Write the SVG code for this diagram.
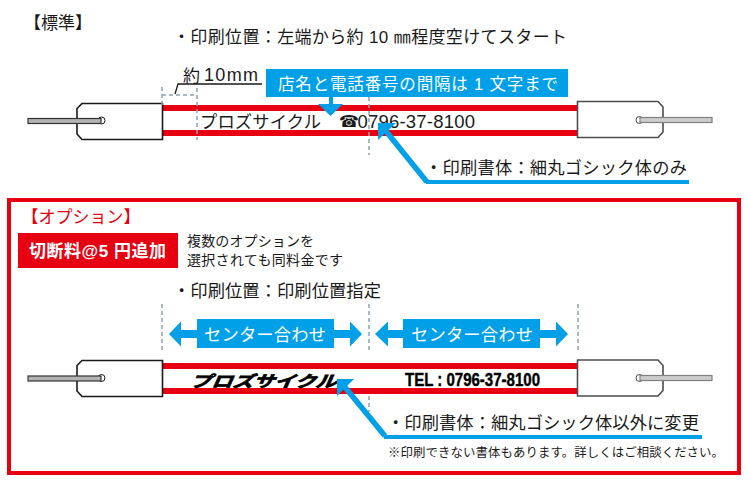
<svg xmlns="http://www.w3.org/2000/svg" width="750" height="484" viewBox="0 0 750 484">
<style>
text{font-family:"Liberation Sans","Noto Sans CJK JP",sans-serif;fill:#1a1a1a;white-space:pre}
.w{fill:#fff}
.r{fill:#e60012}
.l{fill:#e60012}
.tag{fill:#fff;stroke:#1a1a1a;stroke-width:1.6}
.tagr{fill:#fff;stroke:#4d4d4d;stroke-width:1.6}
.str{fill:#b3b3b3;stroke:#333;stroke-width:1.2}
.strr{fill:#ccc;stroke:#808080;stroke-width:1.2}
.dot{fill:none;stroke:#8aa5b5;stroke-width:1.5;stroke-dasharray:4 3}
.bl{fill:#00a0e9}
.bll{fill:none;stroke:#00a0e9;stroke-width:4}
.diag{fill:none;stroke:#00a0e9;stroke-width:5.500}
.m{font-size:17.300px}
.blk{fill:#000;stroke:#000}
</style>
<g id="standard-heading"><text x="24" y="29" font-size="17">【標準】</text></g>
<g id="position-note"><text x="173" y="43" style="font-size:17px" textLength="394">・印刷位置：左端から約 10 ㎜程度空けてスタート</text></g>
<g id="standard-strap">
<rect class="r" x="162" y="105" width="416" height="6"/>
<rect class="r" x="162" y="130" width="416" height="6"/>
</g>
<g id="standard-left-tag">
<path class="tag" d="M162.500 103.500H82L77 108.500V134L82 139.500H162.500Z"/>
<circle cx="101.500" cy="120.500" r="3.500" fill="#fff" stroke="#1a1a1a" stroke-width="1"/>
<rect class="str" x="28" y="118.500" width="73" height="5"/>
</g>
<g id="standard-right-tag">
<path class="tagr" d="M577.500 101.500H658L663 107V132L658 137.500H577.500Z"/>
<circle cx="639.500" cy="120" r="3.500" fill="#fff" stroke="#4d4d4d" stroke-width="1"/>
<rect class="strr" x="640" y="117.500" width="72" height="5"/>
</g>
<g id="size-label"><text x="183" y="82" font-size="17">約</text><text x="204" y="81" font-size="18" textLength="54">10mm</text></g>
<g id="spacing-callout">
<rect class="bl" x="266" y="69" width="302" height="28"/>
<rect class="bl" x="329" y="97" width="4" height="8"/>
<path class="bl" d="M318 104H343L330.500 116Z"/>
<text class="w" x="278" y="90" font-size="16.500" textLength="280">店名と電話番号の間隔は 1 文字まで</text>
</g>
<g id="standard-print">
<text x="200" y="128" font-size="17.300" textLength="121">プロズサイクル</text>
<text x="339" y="127" font-size="16" style="font-family:'DejaVu Sans'">☎</text>
<text x="357.500" y="128" font-size="18.500" textLength="117.500">0796-37-8100</text>
</g>
<g id="font-note"><text x="425" y="174" class="m" textLength="262">・印刷書体：細丸ゴシック体のみ</text></g>
<g id="option-frame"><rect x="9" y="200" width="730" height="273" fill="none" stroke="#e60012" stroke-width="4"/></g>
<g id="option-heading"><text class="l" x="21.500" y="223" font-size="17">【オプション】</text></g>
<g id="price-badge">
<rect class="r" x="18" y="233" width="160" height="35"/>
<text class="w" x="29" y="257" font-size="17" font-weight="700" textLength="137">切断料@5 円追加</text>
</g>
<g id="multi-note">
<text x="187" y="246" font-size="14" textLength="127">複数のオプションを</text>
<text x="187" y="265" font-size="14" textLength="156">選択されても同料金です</text>
</g>
<g id="option-position-note"><text x="173" y="297" class="m" textLength="208">・印刷位置：印刷位置指定</text></g>
<g id="center-left">
<path class="bl" d="M169 334L181 321.500V330H197V319H334V330H350V321.500L362 334L350 346.500V338H334V348H197V338H181V346.500Z"/>
<text class="w" x="204" y="341" font-size="17.300" textLength="122">センター合わせ</text>
</g>
<g id="center-right">
<path class="bl" d="M375 334L388 321.500V330H403V319H540V330H556V321.500L568 334L556 346.500V338H540V348H403V338H388V346.500Z"/>
<text class="w" x="411" y="341" font-size="17.300" textLength="122">センター合わせ</text>
</g>
<g id="option-strap">
<rect class="r" x="162" y="363" width="416" height="6"/>
<rect class="r" x="162" y="388" width="416" height="6"/>
</g>
<g id="option-left-tag">
<path class="tag" d="M162.500 360.500H82L77 365.500V391L82 396.500H162.500Z"/>
<circle cx="101.500" cy="378" r="3.500" fill="#fff" stroke="#1a1a1a" stroke-width="1"/>
<rect class="str" x="28" y="376" width="73" height="5"/>
</g>
<g id="option-right-tag">
<path class="tagr" d="M577.500 360H658L663 365.500V390.500L658 396H577.500Z"/>
<circle cx="639.500" cy="378" r="3.500" fill="#fff" stroke="#4d4d4d" stroke-width="1"/>
<rect class="strr" x="640" y="375.500" width="72" height="5"/>
</g>
<g id="option-print">
<text class="blk" transform="translate(190 387) skewX(-24) scale(1 .75)" font-size="21" font-weight="700" stroke-width="1" textLength="146" lengthAdjust="spacingAndGlyphs" style="fill:#000">プロズサイクル</text>
<text class="blk" x="405" y="386" font-size="18" font-weight="700" stroke-width=".4" textLength="135" lengthAdjust="spacingAndGlyphs" style="fill:#000">TEL : 0796-37-8100</text>
</g>
<g id="option-font-note"><text x="387" y="429" class="m" textLength="312">・印刷書体：細丸ゴシック体以外に変更</text></g>
<g id="option-footnote"><text x="388" y="457" font-size="12.400" textLength="336">※印刷できない書体もあります。詳しくはご相談ください。</text></g>
<g id="connectors">
<path class="dot" d="M162 87V105M162 95H197M197 88V140M369 97V155"/>
<path d="M175 94L178 84H262" fill="none" stroke="#1a1a1a" stroke-width="1.300"/>
<path class="dot" d="M162 304V352M369 304V352M578 304V352M369 396V412"/>
<path class="diag" d="M385 130L427 182"/>
<path class="bll" d="M426 182H689"/>
<path class="bl" d="M378 123H396L378 140Z"/>
<path class="diag" d="M344 386L385 436"/>
<path class="bll" d="M384 437H702"/>
<path class="bl" d="M337 379H354L337 396Z"/>
</g>
</svg>
